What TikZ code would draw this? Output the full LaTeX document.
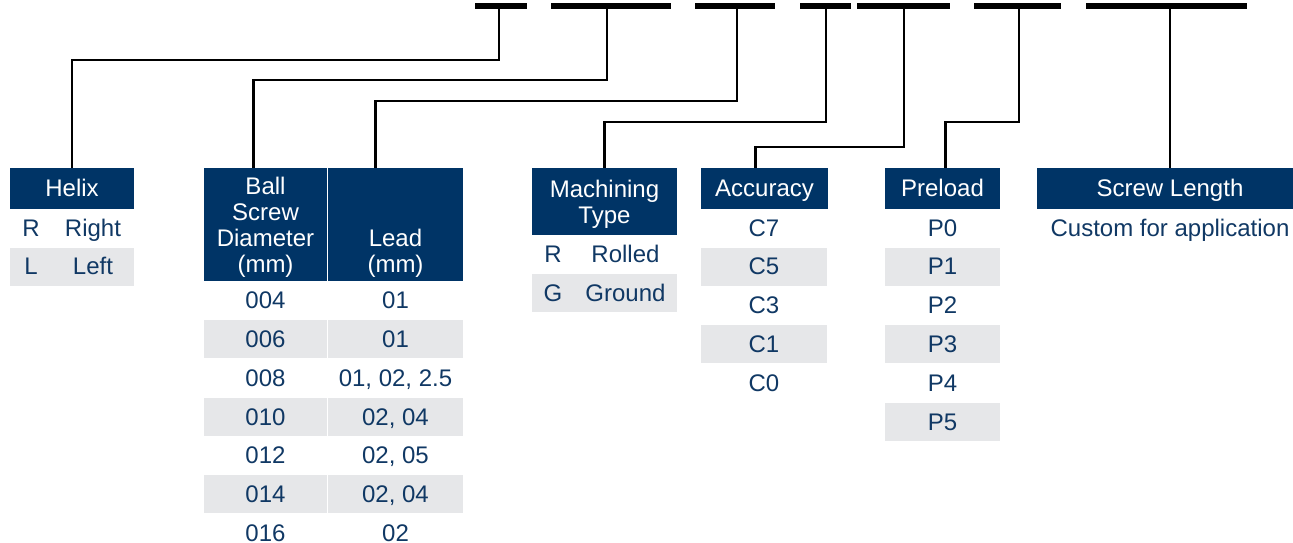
\documentclass[tikz,border=0pt]{standalone}
\usepackage{fontspec}
\setmainfont{Liberation Sans}

\definecolor{navy}{RGB}{0,52,102}
\definecolor{ink}{RGB}{16,56,100}
\definecolor{rowgrey}{RGB}{230,231,233}

\newcommand{\topstrut}{\rule{0pt}{24.8pt}}

\begin{document}
\begin{tikzpicture}[x=1pt,y=-1pt,
    bar/.style={fill=black, inner sep=0pt, minimum height=5.5pt},
    wire/.style={line width=2.8pt, black},
    hdr/.style={fill=navy, text=white, inner sep=0pt, align=center, font=\fontsize{24}{26}\selectfont},
    hdrone/.style={hdr, minimum height=41pt, text height=20pt, text depth=3.5pt},
    cell/.style={text=ink, inner sep=0pt, minimum height=38pt, text height=20pt, text depth=3.5pt, font=\fontsize{24}{26}\selectfont},
    greyrow/.style={fill=rowgrey},
    plainrow/.style={},
    row0/.style={plainrow},
    row1/.style={greyrow}]

    \useasboundingbox (0,0) rectangle (1293,542);

    % part number code bars
    \foreach \n/\x/\w in {1/501/52, 2/611/120, 3/735/80, 4/825.5/51, 5/903.5/93, 6/1017/87, 7/1166.5/161}
      \node[bar, minimum width=\w pt] (bar\n) at (\x,6) {};

    % headers
    \node[hdrone, minimum width=124pt] (helix) at (72,188.25) {Helix};
    \node[hdr, minimum width=123pt, minimum height=113pt] (dia) at (265.5,224.5) {\topstrut Ball\\Screw\\Diameter\\(mm)\strut};
    \node[hdr, minimum width=135pt, minimum height=113pt] (lead) at (395.5,224.5) {\topstrut\\\strut\\Lead\\(mm)\strut};
    \node[hdr, minimum width=145pt, minimum height=67pt] (mach) at (604.5,201.5) {\topstrut Machining\\Type\strut};
    \node[hdrone, minimum width=127pt] (acc) at (764.5,188.25) {Accuracy};
    \node[hdrone, minimum width=115pt] (pre) at (942.5,188.25) {Preload};
    \node[hdrone, minimum width=266pt] (len) at (1170,188.25) {Screw Length};

    % connectors from bars to headers
    \draw[wire] ([xshift=-2pt]bar1.center) -- ++(0,54) -| (helix.north);
    \draw[wire] ([xshift=-4pt]bar2.center) -- ++(0,74) -| ([xshift=50pt]dia.north west);
    \draw[wire] ([xshift=2pt]bar3.center) -- ++(0,95) -| ([xshift=48pt]lead.north west);
    \draw[wire] ([xshift=0.5pt]bar4.center) -- ++(0,116) -| (mach.north);
    \draw[wire] ([xshift=0.5pt]bar5.center) -- ++(0,141) -| ([xshift=55pt]acc.north west);
    \draw[wire] ([xshift=2pt]bar6.center) -- ++(0,116) -| ([xshift=61pt]pre.north west);
    \draw[wire] ([xshift=3.5pt]bar7.center) -- (len.north);

    % helix rows
    \node[cell, minimum width=42pt] (helixR) at (31,227.9) {R};
    \node[cell, minimum width=82pt] (helixRt) at (93,227.9) {Right};
    \node[cell, greyrow, minimum width=42pt] (helixL) at (31,266.7) {L};
    \node[cell, greyrow, minimum width=82pt] (helixLt) at (93,266.7) {Left};

    % diameter and lead rows
    \foreach \d/\l [count=\i from 0] in {004/01, 006/01, 008/{01, 02, 2.5}, 010/{02, 04}, 012/{02, 05}, 014/{02, 04}, 016/02} {
      \pgfmathtruncatemacro\r{mod(\i,2)}
      \node[cell, row\r, minimum width=123pt] (dia\i) at (265.5,300.4+38.8*\i) {\d};
      \node[cell, row\r, minimum width=135pt] (lead\i) at (395.5,300.4+38.8*\i) {\l};
    }

    % machining rows
    \node[cell, minimum width=42pt] (machR) at (553,254.4) {R};
    \node[cell, minimum width=103pt] (machRt) at (625.5,254.4) {Rolled};
    \node[cell, greyrow, minimum width=42pt] (machG) at (553,293.2) {G};
    \node[cell, greyrow, minimum width=103pt] (machGt) at (625.5,293.2) {Ground};

    % accuracy rows
    \foreach \c [count=\i from 0] in {C7, C5, C3, C1, C0} {
      \pgfmathtruncatemacro\r{mod(\i,2)}
      \node[cell, row\r, minimum width=126pt] (acc\i) at (764,227.9+38.8*\i) {\c};
    }

    % preload rows
    \foreach \p [count=\i from 0] in {P0, P1, P2, P3, P4, P5} {
      \pgfmathtruncatemacro\r{mod(\i,2)}
      \node[cell, row\r, minimum width=115pt] (pre\i) at (942.5,227.9+38.8*\i) {\p};
    }

    % screw length
    \node[cell] (lenTxt) at (1170,227.9) {Custom for application};
  \end{tikzpicture}
\end{document}
